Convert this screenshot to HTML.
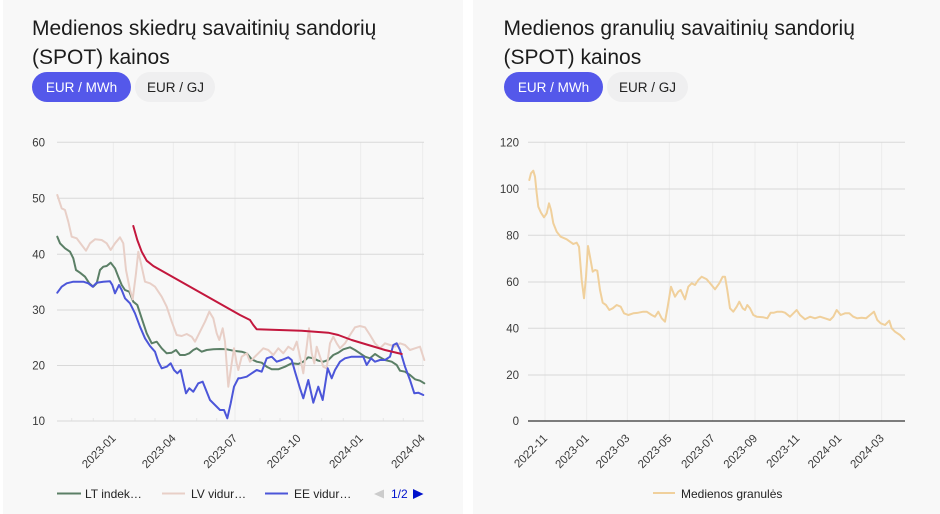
<!DOCTYPE html>
<html><head><meta charset="utf-8"><style>
html,body{margin:0;padding:0;background:#fff;}
svg{display:block;}
text{font-family:"Liberation Sans",Arial,sans-serif;}
</style></head><body>
<svg width="940" height="514" viewBox="0 0 940 514" xmlns="http://www.w3.org/2000/svg">
<rect x="0" y="0" width="940" height="514" fill="#ffffff"/>
<rect x="3" y="0" width="460" height="514" fill="#f8f8f8"/>
<rect x="473" y="0" width="467" height="514" fill="#f8f8f8"/>

<!-- LEFT titles -->
<text x="32" y="35" font-size="21" fill="#1c1c1c">Medienos skiedrų savaitinių sandorių</text>
<text x="32" y="64" font-size="21" fill="#1c1c1c">(SPOT) kainos</text>
<rect x="32" y="72" width="99" height="30" rx="15" fill="#5458ea"/>
<text x="81.5" y="92" font-size="13.5" fill="#ffffff" text-anchor="middle">EUR / MWh</text>
<rect x="135" y="72" width="80" height="30" rx="15" fill="#efeff0"/>
<text x="175.5" y="92" font-size="13.5" fill="#222" text-anchor="middle">EUR / GJ</text>

<!-- RIGHT titles -->
<text x="503.5" y="35" font-size="21" fill="#1c1c1c">Medienos granulių savaitinių sandorių</text>
<text x="503.5" y="64" font-size="21" fill="#1c1c1c">(SPOT) kainos</text>
<rect x="504" y="72" width="99" height="30" rx="15" fill="#5458ea"/>
<text x="553.5" y="92" font-size="13.5" fill="#ffffff" text-anchor="middle">EUR / MWh</text>
<rect x="607" y="72" width="81" height="30" rx="15" fill="#efeff0"/>
<text x="647.5" y="92" font-size="13.5" fill="#222" text-anchor="middle">EUR / GJ</text>

<!-- LEFT chart grid -->
<g stroke="#ebebeb" stroke-width="1">
<line x1="113.3" y1="142" x2="113.3" y2="421"/>
<line x1="173.3" y1="142" x2="173.3" y2="421"/>
<line x1="235" y1="142" x2="235" y2="421"/>
<line x1="298.3" y1="142" x2="298.3" y2="421"/>
<line x1="360.7" y1="142" x2="360.7" y2="421"/>
<line x1="422.7" y1="142" x2="422.7" y2="421"/>
</g>
<g stroke="#e6e6e6" stroke-width="1">
<line x1="71.7" y1="418" x2="71.7" y2="421"/><line x1="93.3" y1="418" x2="93.3" y2="421"/>
<line x1="135" y1="418" x2="135" y2="421"/><line x1="155" y1="418" x2="155" y2="421"/>
<line x1="196.7" y1="418" x2="196.7" y2="421"/><line x1="216.7" y1="418" x2="216.7" y2="421"/>
<line x1="260" y1="418" x2="260" y2="421"/><line x1="280" y1="418" x2="280" y2="421"/>
<line x1="321.7" y1="418" x2="321.7" y2="421"/><line x1="343.3" y1="418" x2="343.3" y2="421"/>
<line x1="383.3" y1="418" x2="383.3" y2="421"/><line x1="403.3" y1="418" x2="403.3" y2="421"/>
</g>
<g stroke="#d9d9d9" stroke-width="1">
<line x1="57" y1="142.3" x2="424" y2="142.3"/>
<line x1="57" y1="198.3" x2="424" y2="198.3"/>
<line x1="57" y1="254.3" x2="424" y2="254.3"/>
<line x1="57" y1="310" x2="424" y2="310"/>
<line x1="57" y1="365.5" x2="424" y2="365.5"/>
<line x1="57" y1="421" x2="424" y2="421"/>
</g>
<g font-size="11.5" fill="#3a3a3a" text-anchor="end">
<text x="45" y="146.5">60</text>
<text x="45" y="202.5">50</text>
<text x="45" y="258.5">40</text>
<text x="45" y="314">30</text>
<text x="45" y="369.5">20</text>
<text x="45" y="425">10</text>
</g>
<g font-size="11.5" fill="#3a3a3a" text-anchor="end">
<text x="116.5" y="439" transform="rotate(-45 116.5 439)">2023-01</text>
<text x="176.5" y="439" transform="rotate(-45 176.5 439)">2023-04</text>
<text x="238" y="439" transform="rotate(-45 238 439)">2023-07</text>
<text x="301.5" y="439" transform="rotate(-45 301.5 439)">2023-10</text>
<text x="363.7" y="439" transform="rotate(-45 363.7 439)">2024-01</text>
<text x="425.7" y="439" transform="rotate(-45 425.7 439)">2024-04</text>
</g>

<g fill="none" stroke-width="2" stroke-linejoin="round" stroke-linecap="round">
<polyline stroke="#5b7f66" points="57.3,236.7 60,243.3 65,248.3 70,251.7 73.3,258.3 76,270 80,272.7 85,276.7 89.3,283.3 93.3,286.7 96.7,283.3 100,270 103.3,266.7 106.7,266 110.7,262.7 115,268.3 118.3,276.7 121.7,285 125,290 129.3,291.7 133.3,301.7 137.3,305 141.7,318.3 146.7,333.3 151.7,343.3 156.7,341.7 161.7,348.3 166.7,353.3 171.7,352.7 176,350 180,355 185,355 189.3,353.3 193.3,350 196.7,348.3 201.7,351.7 206.7,350 213.3,349.3 220,349 226.7,349.3 233.3,350.7 241.7,351.7 246.7,353.3 251.7,359.3 256.7,361.7 261.7,362.7 266.7,366.7 271.7,369.3 278.3,369.3 285,366.7 291.7,363.3 298.3,364 303.3,361.7 308.3,357.3 313.3,358.3 318.3,360.7 323.3,361.7 328.3,360 333.3,355 338.3,352.7 343.3,349.3 350,347.3 355,350 360,353.3 365,356.7 370,358.3 375,354 380,357.3 385,360 391.7,361.7 396.7,365 400,370.7 405,371.7 410,375 415,379.3 420,380.7 424.3,383.3"/>
<polyline stroke="#e8cfc7" points="57.3,195 61.7,208.3 65,210 68.3,221.7 71.7,236.7 76.7,238.3 81.7,245 86,250.7 90,243.3 95,239.3 101.7,240 106.7,243.3 110.7,250 115,243.3 120,237.3 123.3,243.3 126,270 130,290 132.7,299.3 136,273.3 138.3,251.7 141.7,266.7 145,281.7 150,283.3 155,286.7 161.7,296.7 166.7,306.7 171.7,321.7 176.7,335 181.7,336 186.7,334 191.7,336.7 195,341.7 200,331.7 205,321.7 209.3,311.7 213.3,318.3 216.7,333.3 219.3,340 222.7,328.3 225,341.7 228.3,386.7 231.7,363.3 234,348.3 236.7,363.3 238.3,370 241.7,356.7 246.7,353.3 250,361.7 253.3,358.3 258.3,353.3 263.3,348.3 268.3,350 273.3,355 278.3,348.3 283.3,353.3 288.3,346.7 293.3,350 296.7,341.7 300,356.7 303.3,373.3 306.7,346.7 309,328.3 311.7,353.3 314.3,363.3 316.7,346.7 320,356.7 323.3,366.7 326.7,368.3 330,343.3 333.3,336.7 336.7,343.3 340,348.3 345,343.3 350,335 355,327.3 360,326 365,327.3 370,335 375,343.3 380,348.3 385,343.3 390,345 395,346.7 400,343.3 405,345 410,350 415,348.3 420,346.7 424.3,360"/>
<polyline stroke="#4c56d9" points="57.3,292.7 61.7,286.7 66.7,283.3 73.3,281.7 83.3,281.7 88.3,283.3 92.7,286.7 96.7,282.7 103.3,281.7 110,281.3 112.3,285 115,293.3 119,285 121.7,290 125,298.3 130,303.3 135,313.3 140,326.7 145,338.3 150,346 155,351.7 158.3,361.7 161.7,368.3 166.7,366.7 170.7,363.3 174,370 177.3,373.3 180.7,370 183.3,381.7 186,393.3 189.3,388.3 193.3,391.7 198.3,383.3 202.7,381.7 206,390 210,400 215,405 220,410 224,410 227.3,418.3 230.7,403.3 234,386.7 238.3,378.3 240,378.3 246.7,376.7 251.7,373.3 256.7,370 261.7,371.7 266.7,358.3 271.7,356.7 276.7,361.7 281.7,360 288.3,357.3 291.7,360 295,371.7 300,388.3 303.3,398.3 308.3,380 313.3,402.7 318.3,386.7 322.7,400 327.7,368.3 331.7,378.3 335,370 340,361.7 345,358.3 351.7,356.7 358.3,356.7 363.3,356.7 366.7,365 371,358.3 375,361.7 380,360 385,360 390,356.7 393.3,345 396.7,343.3 400,350 405,366.7 410,380 414.3,393.3 418.3,392.7 423.3,395"/>
<polyline stroke="#c3173d" points="133.3,226 137.3,240 141.7,251.7 146.7,260.7 153.3,266 240,315 250,320 253.3,325 256.7,329.3 301.7,330.7 328.3,332.7 338.3,335 351.7,340 368.3,345 385,350 401.7,354"/>
</g>

<!-- LEFT legend -->
<g font-size="12" fill="#222">
<line x1="57" y1="493.5" x2="81" y2="493.5" stroke="#5b7f66" stroke-width="2"/>
<text x="85" y="498">LT indek…</text>
<line x1="162" y1="493.5" x2="185" y2="493.5" stroke="#e8cfc7" stroke-width="2"/>
<text x="191" y="498">LV vidur…</text>
<line x1="265" y1="493.5" x2="288" y2="493.5" stroke="#4c56d9" stroke-width="2"/>
<text x="294" y="498">EE vidur…</text>
<polygon points="384,489.5 384,498.5 374,494" fill="#cccccc"/>
<text x="391" y="498" fill="#0011cc">1/2</text>
<polygon points="413,489 413,499 423.5,494" fill="#0011cc"/>
</g>

<!-- RIGHT chart grid -->
<g stroke="#ebebeb" stroke-width="1">
<line x1="545" y1="142" x2="545" y2="421"/>
<line x1="586.7" y1="142" x2="586.7" y2="421"/>
<line x1="627.3" y1="142" x2="627.3" y2="421"/>
<line x1="669.3" y1="142" x2="669.3" y2="421"/>
<line x1="712.7" y1="142" x2="712.7" y2="421"/>
<line x1="755" y1="142" x2="755" y2="421"/>
<line x1="797.3" y1="142" x2="797.3" y2="421"/>
<line x1="839.3" y1="142" x2="839.3" y2="421"/>
<line x1="881.7" y1="142" x2="881.7" y2="421"/>
</g>
<g stroke="#d9d9d9" stroke-width="1">
<line x1="528" y1="142.3" x2="905" y2="142.3"/>
<line x1="528" y1="189" x2="905" y2="189"/>
<line x1="528" y1="235.3" x2="905" y2="235.3"/>
<line x1="528" y1="282" x2="905" y2="282"/>
<line x1="528" y1="328.3" x2="905" y2="328.3"/>
<line x1="528" y1="375" x2="905" y2="375"/>
</g>
<line x1="528" y1="421" x2="905" y2="421" stroke="#333" stroke-width="1.2"/>
<g font-size="11.5" fill="#3a3a3a" text-anchor="end">
<text x="519" y="146.5">120</text>
<text x="519" y="193">100</text>
<text x="519" y="239.5">80</text>
<text x="519" y="286">60</text>
<text x="519" y="332.5">40</text>
<text x="519" y="379">20</text>
<text x="519" y="425">0</text>
</g>
<g font-size="11.5" fill="#3a3a3a" text-anchor="end">
<text x="548" y="439" transform="rotate(-45 548 439)">2022-11</text>
<text x="589.7" y="439" transform="rotate(-45 589.7 439)">2023-01</text>
<text x="630.3" y="439" transform="rotate(-45 630.3 439)">2023-03</text>
<text x="672.3" y="439" transform="rotate(-45 672.3 439)">2023-05</text>
<text x="715.7" y="439" transform="rotate(-45 715.7 439)">2023-07</text>
<text x="758" y="439" transform="rotate(-45 758 439)">2023-09</text>
<text x="800.3" y="439" transform="rotate(-45 800.3 439)">2023-11</text>
<text x="842.3" y="439" transform="rotate(-45 842.3 439)">2024-01</text>
<text x="884.7" y="439" transform="rotate(-45 884.7 439)">2024-03</text>
</g>
<polyline fill="none" stroke="#f0d09c" stroke-width="2" stroke-linejoin="round" stroke-linecap="round" points="529.3,180 531,173.3 533.3,170.7 535,176.7 536.7,193.3 538.3,206.7 541,212.7 544,217.3 546.7,213.3 549,203.3 551,210 553.3,223.3 556.7,231.7 560.7,236.7 566.7,239.3 570,241.7 573.3,244 576.7,242.7 579,246.7 581.7,280 584,298.3 586,276.7 588,246 590,256.7 592.7,271.7 595,270 597.3,270.7 600,290 602.7,302.7 606,305 609.3,310 612.7,308.3 616.7,305 620.7,306.7 624,313.3 628.3,315 633.3,313.3 638.3,312.7 643.3,311.7 646.7,311.7 651.7,315 655,316.7 658.3,311.7 661.7,318.3 665,321.7 667.7,306.7 671,286.7 675,296.7 678.3,291.7 680.7,290 685,299.3 688.3,286.7 691.7,283.3 695,285 698.3,280 701.7,276.7 706.7,279.3 710.7,284 715,289.3 719.3,283.3 722.7,276.7 725,276.7 727.3,290 730,308.3 733.3,311.7 736.7,306.7 739.3,301.7 742.7,308.3 745,310 747.3,305 750,308.3 753.3,315 756.7,316.7 763.3,317.3 767.3,318.3 770.7,312.7 774,312.7 777.3,311.7 781.7,311.7 785,312.7 790,316.7 794,312.7 796.7,310 800,315 805,319.3 810,316.7 815,318.3 820,316.7 825,318.3 830,320 833.3,316.7 836.7,310 840.7,315 845,313.3 849.3,313.3 853.3,316.7 857.3,318.3 861.7,317.7 866,318.3 870,315 874,311.7 877.3,320 880.7,323.3 885,325 889.3,320.7 891.7,328.3 895,331.7 900,335 904.3,339.3"/>

<!-- RIGHT legend -->
<line x1="653" y1="493" x2="675" y2="493" stroke="#f0d09c" stroke-width="2"/>
<text x="681" y="498" font-size="12" fill="#222">Medienos granulės</text>
</svg>
</body></html>
